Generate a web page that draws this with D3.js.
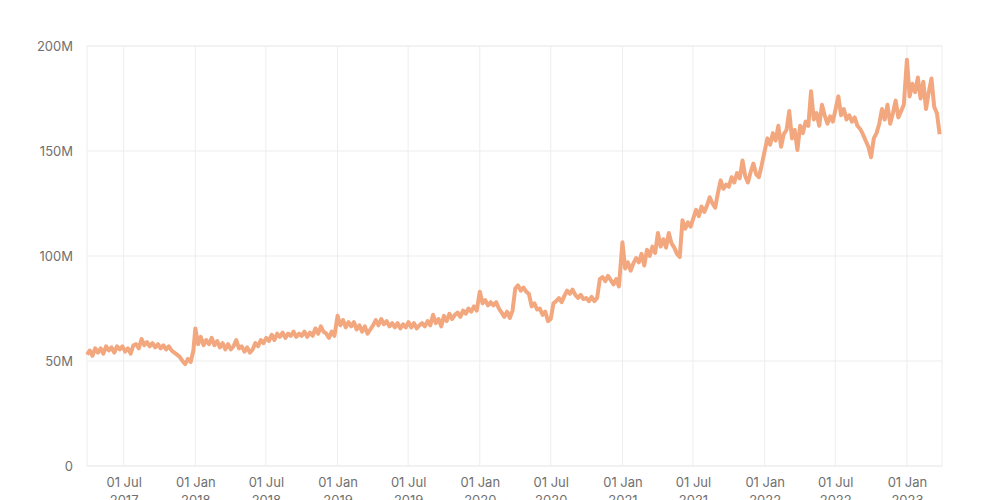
<!DOCTYPE html>
<html>
<head>
<meta charset="utf-8">
<script src="https://cdn.jsdelivr.net/npm/d3@7"></script>
<style>
  html, body { margin: 0; padding: 0; background: #ffffff; }
  svg { display: block; }
  text { font-family: Inter, "Noto Sans", sans-serif; }
</style>
</head>
<body>
<svg id="chart" width="1000" height="500"></svg>
<script>
// ---- Data (weekly readings, millions) ----
const start2017 = "2017-03-29";
const values2017 = [53, 55, 52.5, 56, 54, 56, 53.5, 57, 55, 56.5, 54, 57, 55.5, 57, 54.5, 56, 53.5, 57.5, 58, 56, 60.5, 57.5, 59, 57, 58.5, 56.5, 58, 56, 57.5, 55.5, 57, 55, 54, 53, 52, 50, 48.5, 51, 49.5, 55];
const start2018 = "2018-01-01";
const values2018 = [65.5, 58, 61.5, 57.5, 60, 58, 61, 57.5, 59.5, 56.5, 58.5, 55.5, 58, 55.5, 57, 60, 56, 57, 54.5, 56.5, 54, 55.5, 58.5, 57, 60, 58.5, 61, 59.5, 62.5, 60, 63, 61.5, 63.5, 61, 63, 62, 64, 61.5, 63, 62, 64, 61.5, 63.5, 62, 65.5, 63, 66.5, 64, 63, 61, 64, 62];
const start2019 = "2019-01-01";
const values2019 = [71.5, 67, 69.5, 66, 68.5, 66.5, 68.5, 65, 67, 64, 66.5, 63, 65, 67, 69.5, 67, 70, 67.5, 69, 66.5, 68, 66, 68, 65.5, 67.5, 66, 68.5, 66, 68, 65.5, 67, 68, 66.5, 69, 67, 72, 68, 70, 66.5, 71.5, 69, 72.5, 70, 72, 73, 71, 74, 72.5, 75, 73.5, 76, 74];
const start2020 = "2020-01-01";
const values2020 = [83, 77.5, 79, 76.5, 78, 76.5, 78, 75, 73, 71, 73.5, 70.5, 74, 84.5, 86, 83.5, 85, 83, 82, 76, 77.5, 74.5, 75, 72, 73.5, 69, 70, 77.5, 78.5, 80, 78, 81, 83.5, 82, 84, 81.5, 80, 81.5, 79.5, 80, 78.5, 80.5, 78.5, 80, 89, 90, 88, 90.5, 88.5, 86.5, 89, 85.5];
const start2021 = "2021-01-01";
const values2021 = [106.5, 94, 97, 93, 96.5, 99, 97, 101, 95.5, 103, 100, 104.5, 101.5, 111, 104.5, 108, 104, 111, 106, 104, 101, 99.5, 117, 113, 116, 114, 118, 122, 119, 123.5, 121, 124, 128, 125, 123, 130, 136, 132, 134, 133, 137.5, 135, 139.5, 137, 145.5, 138, 135, 140, 144, 139, 137.5, 143];
const start2022 = "2022-01-01";
const values2022 = [150, 156, 153, 158.5, 155, 162, 152, 158, 160, 169, 156, 160, 150.5, 162, 158.5, 164, 162, 178.5, 165, 168, 162, 172, 167, 163, 166.5, 164, 170, 176, 167, 170, 165, 167, 164, 166, 162, 160.5, 158, 155, 152, 147, 156, 158.5, 163, 170, 165, 172, 163, 168, 174, 166, 169, 172];
const start2023 = "2023-01-01";
const values2023 = [193.5, 176, 182, 178, 185, 175, 183, 170, 178, 184.5, 171, 168, 158];

const yTicks = [0, 50, 100, 150, 200];
const yTickLabels = ["0", "50M", "100M", "150M", "200M"];
const xTickDates = ["2017-07-01", "2018-01-01", "2018-07-01", "2019-01-01", "2019-07-01", "2020-01-01", "2020-07-01", "2021-01-01", "2021-07-01", "2022-01-01", "2022-07-01", "2023-01-01"];
const xDomain = ["2017-03-29", "2023-04-01"];

// ---- Build series ----
const parse = d3.utcParse("%Y-%m-%d");
const blocks = [
  [start2017, values2017], [start2018, values2018], [start2019, values2019],
  [start2020, values2020], [start2021, values2021], [start2022, values2022],
  [start2023, values2023]
];
const data = [];
blocks.forEach(([s, vals]) => {
  const d0 = parse(s);
  vals.forEach((v, k) => data.push({ date: d3.utcDay.offset(d0, 7 * k), value: v }));
});

// ---- Layout ----
const W = 1000, H = 500;
const margin = { top: 46, right: 58, bottom: 34, left: 87 };
const svg = d3.select("#chart");

const x = d3.scaleUtc().domain(xDomain.map(parse)).range([margin.left, W - margin.right]);
const y = d3.scaleLinear().domain([0, 200]).range([H - margin.bottom, margin.top]);

const gridColor = "#ededed";
const labelColor = "#707070";

// grid
const grid = svg.append("g");
grid.selectAll("line.h").data(yTicks).join("line")
  .attr("x1", margin.left).attr("x2", W - margin.right)
  .attr("y1", d => y(d)).attr("y2", d => y(d))
  .attr("stroke", gridColor).attr("stroke-width", 1);
grid.selectAll("line.v").data(xTickDates.map(parse)).join("line")
  .attr("x1", d => x(d)).attr("x2", d => x(d))
  .attr("y1", margin.top).attr("y2", H - margin.bottom)
  .attr("stroke", gridColor).attr("stroke-width", 1);
grid.append("rect")
  .attr("x", margin.left).attr("y", margin.top)
  .attr("width", W - margin.left - margin.right)
  .attr("height", H - margin.top - margin.bottom)
  .attr("fill", "none").attr("stroke", gridColor);

// y axis
const yAxis = d3.axisLeft(y).tickValues(yTicks)
  .tickFormat((d, i) => yTickLabels[i]).tickSize(0).tickPadding(14);
const gy = svg.append("g").attr("transform", `translate(${margin.left},0)`).call(yAxis);
gy.select(".domain").remove();
gy.selectAll("text").attr("fill", labelColor).style("font-size", "13px").style("font-family", "Inter, 'Noto Sans', sans-serif");

// x axis
const fmtTop = d3.utcFormat("%d %b");
const fmtYear = d3.utcFormat("%Y");
const xAxis = d3.axisBottom(x).tickValues(xTickDates.map(parse)).tickSize(0).tickFormat("");
const gx = svg.append("g").attr("transform", `translate(0,${H - margin.bottom})`).call(xAxis);
gx.select(".domain").remove();
gx.selectAll(".tick").each(function(d) {
  const t = d3.select(this).append("text")
    .attr("fill", labelColor)
    .attr("text-anchor", "middle")
    .style("font-size", "13px")
    .style("font-family", "Inter, 'Noto Sans', sans-serif")
    .attr("y", 20.5);
  t.append("tspan").attr("x", 0).text(fmtTop(d));
  t.append("tspan").attr("x", 0).attr("dy", 18).text(fmtYear(d));
});

// line
const line = d3.line().x(d => x(d.date)).y(d => y(d.value)).curve(d3.curveLinear);
svg.append("path").datum(data)
  .attr("fill", "none")
  .attr("stroke", "#f2a77e")
  .attr("stroke-width", 4)
  .attr("stroke-linejoin", "round")
  .attr("d", line);
</script>
</body>
</html>
